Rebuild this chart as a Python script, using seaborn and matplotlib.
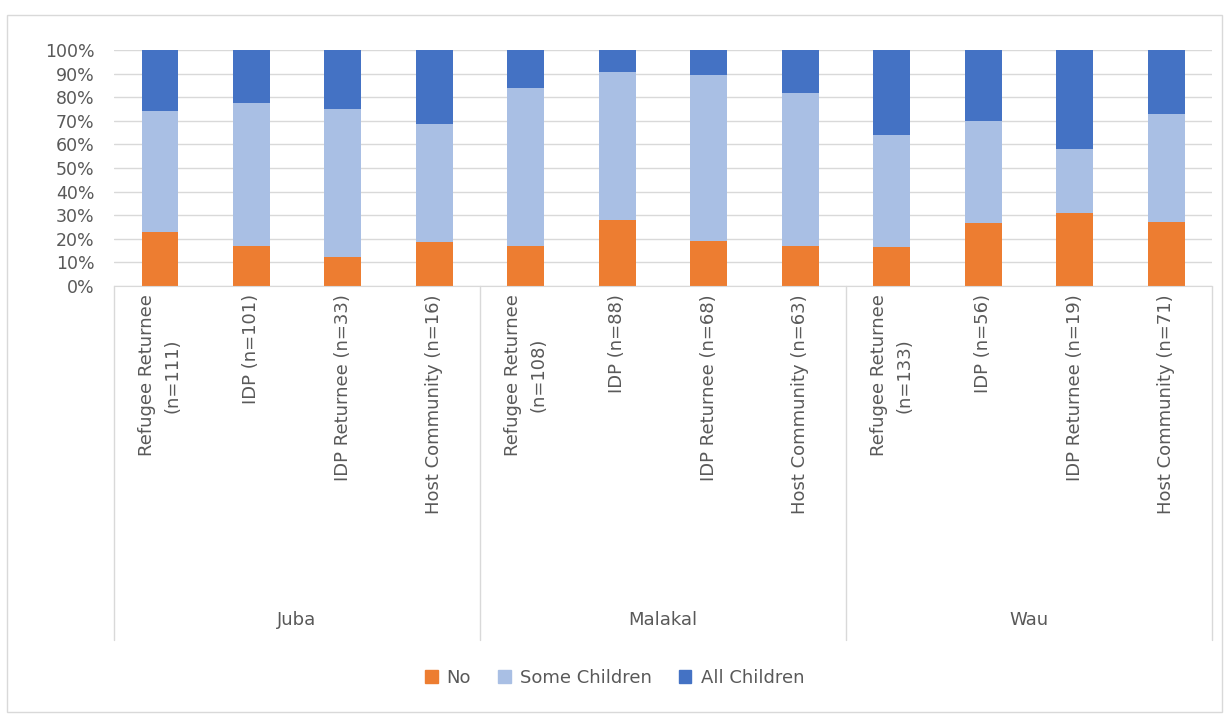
import matplotlib
matplotlib.use("Agg")
import matplotlib.pyplot as plt
import matplotlib.patches as mpatches
import seaborn as sns
import pandas as pd

locations = ['Juba', 'Malakal', 'Wau']
groups = ['Refugee Returnee\n(n=111)', 'IDP (n=101)', 'IDP Returnee (n=33)', 'Host Community (n=16)',
          'Refugee Returnee\n(n=108)', 'IDP (n=88)', 'IDP Returnee (n=68)', 'Host Community (n=63)',
          'Refugee Returnee\n(n=133)', 'IDP (n=56)', 'IDP Returnee (n=19)', 'Host Community (n=71)']
no_pct = [23, 17, 12.5, 18.5, 17, 28, 19, 17, 16.5, 26.5, 31, 27]
some_pct = [51, 60.5, 62.5, 50, 67, 62.5, 70.5, 65, 47.5, 43.5, 27, 46]
all_pct = [26, 22.5, 25, 31.5, 16, 9.5, 10.5, 18, 36, 30, 42, 27]

series = ['No', 'Some Children', 'All Children']
colors = ['#ED7D31', '#A9BFE4', '#4472C4']

df = pd.DataFrame({'group': groups, 'No': no_pct, 'Some Children': some_pct, 'All Children': all_pct})
df['top_no'] = df['No']
df['top_some'] = df['No'] + df['Some Children']
df['top_all'] = df['top_some'] + df['All Children']

sns.set_style('white')
plt.rcParams['font.family'] = ['DejaVu Sans']

fig = plt.figure(figsize=(12.29, 7.15), dpi=100)
ax = fig.add_axes([0.0928, 0.6, 0.8934, 0.33])

# stacked bars: draw cumulative totals back to front
for col, c in zip(['top_all', 'top_some', 'top_no'], colors[::-1]):
    sns.barplot(data=df, x='group', y=col, color=c, width=0.4, saturation=1, linewidth=0, ax=ax)

ax.set_ylim(0, 100)
ax.set_xlim(-0.5, len(groups) - 0.5)
ax.set_yticks(range(0, 101, 10))
ax.set_yticklabels([f'{v}%' for v in range(0, 101, 10)], fontsize=12.5, color='#595959')
ax.yaxis.grid(True, color='#D9D9D9', linewidth=1)
ax.set_axisbelow(True)
ax.set_xlabel('')
ax.set_ylabel('')
for s in ['top', 'right', 'left']:
    ax.spines[s].set_visible(False)
ax.spines['bottom'].set_color('#D9D9D9')
ax.tick_params(axis='y', length=0, pad=14)
ax.tick_params(axis='x', length=0, pad=6)
ax.set_xticks(range(len(groups)))
ax.set_xticklabels(groups, rotation=90, fontsize=13, color='#595959', linespacing=1.5)

# location group labels and separators below the axis
trans = ax.get_xaxis_transform()
for i in range(len(locations) + 1):
    x = i * 4 - 0.5
    ax.plot([x, x], [0, -1.5], transform=trans, color='#D9D9D9', lw=1, clip_on=False)
for i, loc in enumerate(locations):
    ax.text(i * 4 + 1.5, -1.415, loc, transform=trans, ha='center', va='center',
            fontsize=13, color='#595959')

handles = [mpatches.Patch(color=c, label=s) for s, c in zip(series, colors)]
fig.legend(handles=handles, loc='center', bbox_to_anchor=(0.5, 0.052), ncol=3, frameon=False,
           fontsize=13, handlelength=0.7, handleheight=0.7, columnspacing=1.5, handletextpad=0.5,
           labelcolor='#595959')

fig.patches.append(mpatches.Rectangle((0.006, 0.004), 0.988, 0.975, transform=fig.transFigure,
                                      fill=False, edgecolor='#D9D9D9', lw=1))

fig.savefig('out.png', dpi=100)
